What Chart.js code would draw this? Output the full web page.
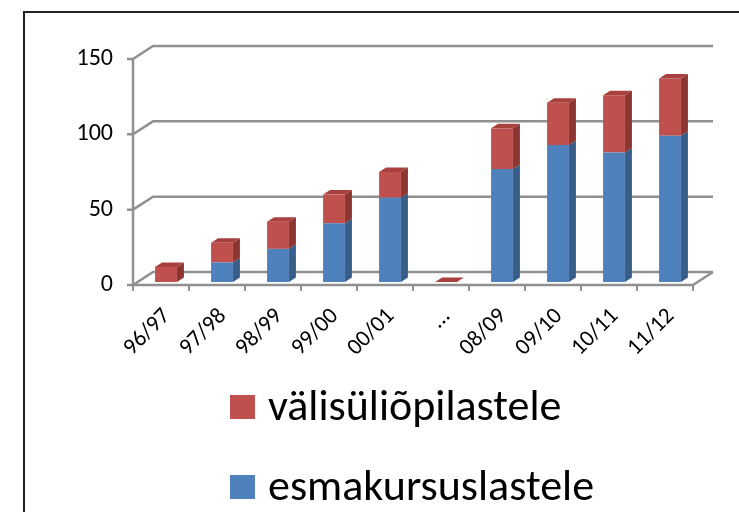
<!DOCTYPE html>
<html>
<head>
<meta charset="utf-8">
<script src="https://cdn.jsdelivr.net/npm/chart.js@4/dist/chart.umd.min.js"></script>
<style>
  body { margin: 0; background: #fff; }
  #wrap { position: relative; width: 739px; height: 512px; overflow: hidden; }
  #frame { position: absolute; left: 23px; top: 11px; width: 800px; height: 600px; border: 2px solid #222; }
  #chart { position: absolute; left: 0; top: 0; }
  .legend-item { position: absolute; left: 230px; height: 44px; font-family: Carlito, Lato, sans-serif; font-size: 44px; color: #000; }
  .legend-item .box { position: absolute; left: 0; top: 12px; width: 25px; height: 24px; }
  .legend-item .txt { position: absolute; left: 38px; top: 0; line-height: 44px; white-space: nowrap; }
</style>
</head>
<body>
<div id="wrap">
  <div id="frame"></div>
  <canvas id="chart" width="739" height="512"></canvas>
  <div id="legend"></div>
</div>
<script>
var labels = ['96/97', '97/98', '98/99', '99/00', '00/01', '...', '08/09', '09/10', '10/11', '11/12'];
var esmakursuslastele = [0, 13, 22, 39, 56, 0, 75, 91, 86, 97];
var valisuliopilastele = [10, 13, 18, 19, 17, 0, 27, 28, 38, 38];
var yMax = 150;
var yStep = 50;

// plane offsets relative to the bars: front edge of the floor, back wall, bar depth
var FRONT = { x: -5, y: 3 };
var BACK = { x: 15, y: -10 };
var DEPTH = { x: 7, y: -4.5 };

var FONT = 'Carlito, Lato, sans-serif';

var shades = {
  blue: { front: '#4F81BD', side: '#385E8C', top: '#6A95C9' },
  red: { front: '#C0504D', side: '#8C3533', top: '#A8413E' }
};

var walls3d = {
  id: 'walls3d',
  beforeDatasetsDraw: function(chart) {
    var ctx = chart.ctx, a = chart.chartArea, xs = chart.scales.x, ys = chart.scales.y;
    var y0 = ys.getPixelForValue(0);
    ctx.save();
    ctx.strokeStyle = '#909090';
    ctx.lineWidth = 2.5;
    ys.ticks.forEach(function(t) {
      var py = ys.getPixelForValue(t.value);
      ctx.beginPath();
      ctx.moveTo(a.left + FRONT.x - 6, py + FRONT.y);
      ctx.lineTo(a.left + FRONT.x, py + FRONT.y);
      ctx.lineTo(a.left + BACK.x, py + BACK.y);
      ctx.lineTo(a.right + BACK.x, py + BACK.y);
      ctx.stroke();
    });
    // floor front and right edge
    ctx.beginPath();
    ctx.moveTo(a.left + FRONT.x, y0 + FRONT.y);
    ctx.lineTo(a.right + FRONT.x, y0 + FRONT.y);
    ctx.lineTo(a.right + BACK.x, y0 + BACK.y);
    ctx.stroke();
    // value axis
    ctx.beginPath();
    ctx.moveTo(a.left + FRONT.x, ys.getPixelForValue(yMax) + FRONT.y);
    ctx.lineTo(a.left + FRONT.x, y0 + FRONT.y);
    ctx.stroke();
    // category ticks
    ctx.lineWidth = 2;
    for (var i = 0; i <= labels.length; i++) {
      var px = xs.getPixelForValue(i - 0.5) + FRONT.x;
      ctx.beginPath();
      ctx.moveTo(px, y0 + FRONT.y);
      ctx.lineTo(px, y0 + FRONT.y + 6);
      ctx.stroke();
    }
    ctx.restore();
  },
  afterDatasetsDraw: function(chart) {
    var ctx = chart.ctx;
    var n = chart.data.datasets.length;
    ctx.save();
    for (var d = 0; d < n; d++) {
      var meta = chart.getDatasetMeta(d);
      var sh = chart.data.datasets[d].shade;
      meta.data.forEach(function(bar) {
        var p = bar.getProps(['x', 'y', 'base', 'width'], true);
        var l = p.x - p.width / 2, r = p.x + p.width / 2;
        var top = Math.min(p.y, p.base), bottom = Math.max(p.y, p.base);
        if (bottom - top > 0.5) {
          ctx.fillStyle = sh.side;
          ctx.beginPath();
          ctx.moveTo(r, top);
          ctx.lineTo(r + DEPTH.x, top + DEPTH.y);
          ctx.lineTo(r + DEPTH.x, bottom + DEPTH.y);
          ctx.lineTo(r, bottom);
          ctx.closePath();
          ctx.fill();
        }
        if (d === n - 1) {
          ctx.fillStyle = sh.top;
          ctx.beginPath();
          ctx.moveTo(l, top);
          ctx.lineTo(l + DEPTH.x, top + DEPTH.y);
          ctx.lineTo(r + DEPTH.x, top + DEPTH.y);
          ctx.lineTo(r, top);
          ctx.closePath();
          ctx.fill();
        }
      });
    }
    ctx.restore();
  }
};

var chart = new Chart(document.getElementById('chart'), {
  type: 'bar',
  data: {
    labels: labels,
    datasets: [
      { label: 'esmakursuslastele', data: esmakursuslastele, backgroundColor: shades.blue.front, shade: shades.blue },
      { label: 'välisüliõpilastele', data: valisuliopilastele, backgroundColor: shades.red.front, shade: shades.red }
    ]
  },
  options: {
    responsive: false,
    animation: false,
    datasets: { bar: { categoryPercentage: 1, barPercentage: 0.39, borderWidth: 0 } },
    layout: { padding: { top: 56, right: 41, left: 0, bottom: 0 } },
    plugins: { legend: { display: false }, tooltip: { enabled: false } },
    scales: {
      x: {
        stacked: true,
        grid: { display: false, drawTicks: false },
        border: { display: false },
        ticks: { minRotation: 45, maxRotation: 45, labelOffset: 1, padding: 21, color: '#000', font: { family: FONT, size: 23 } },
        afterFit: function(s) { s.height = 512 - 282; }
      },
      y: {
        stacked: true,
        min: 0,
        max: yMax,
        grid: { display: false, drawTicks: false },
        border: { display: false },
        ticks: { stepSize: yStep, labelOffset: FRONT.y, padding: 25, color: '#000', font: { family: FONT, size: 24 } },
        afterFit: function(s) { s.width = 138; }
      }
    }
  },
  plugins: [walls3d]
});

// legend, top series first
var legendTops = [383, 463];
var legend = document.getElementById('legend');
chart.data.datasets.slice().reverse().forEach(function(ds, i) {
  var item = document.createElement('div');
  item.className = 'legend-item';
  item.style.top = legendTops[i] + 'px';
  item.innerHTML = '<span class="box" style="background:' + ds.backgroundColor + '"></span><span class="txt"></span>';
  item.querySelector('.txt').textContent = ds.label;
  legend.appendChild(item);
});
</script>
</body>
</html>
